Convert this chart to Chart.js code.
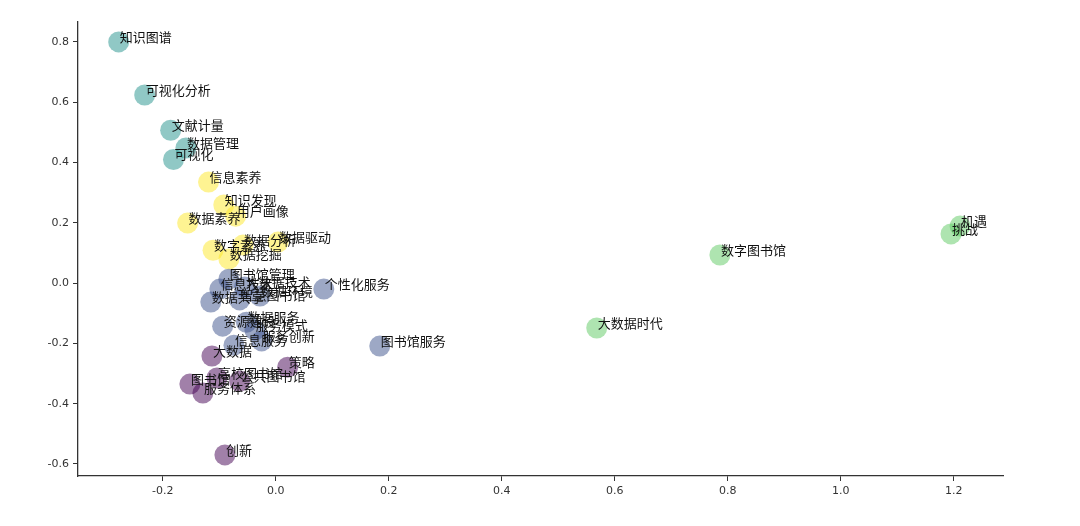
<!DOCTYPE html>
<html lang="zh">
<head>
<meta charset="UTF-8">
<title>关键词聚类散点图</title>
<script src="https://cdn.jsdelivr.net/npm/chart.js@4.4.4/dist/chart.umd.min.js"></script>
<style>
  html, body { margin: 0; padding: 0; background: #fff; }
  #wrap { width: 1080px; height: 526px; }
</style>
</head>
<body>
<div id="wrap"><canvas id="scatter" width="1080" height="526"></canvas></div>
<script>
// Keywords, their 2-D coordinates and the cluster each one belongs to.
const words = [
  '知识图谱', '可视化分析', '文献计量', '数据管理', '可视化',
  '信息素养', '知识发现', '用户画像', '数据素养', '数字素养', '数据分析', '数据驱动', '数据挖掘',
  '机遇', '挑战', '数字图书馆', '大数据时代',
  '个性化服务', '图书馆服务', '图书馆管理', '信息技术', '大数据技术', '数据环境', '数据共享',
  '智慧图书馆', '资源建设', '服务模式', '服务创新', '信息服务', '数据服务',
  '大数据', '策略', '高校图书馆', '图书馆', '公共图书馆', '服务体系', '创新',
];
const xValues = [
  -0.278, -0.232, -0.186, -0.159, -0.181,
  -0.119, -0.092, -0.071, -0.156, -0.111, -0.058, 0.004, -0.083,
  1.211, 1.195, 0.786, 0.568,
  0.085, 0.184, -0.083, -0.099, -0.055, -0.028, -0.115,
  -0.064, -0.094, -0.037, -0.025, -0.074, -0.052,
  -0.113, 0.021, -0.104, -0.152, -0.064, -0.129, -0.090,
];
const yValues = [
  0.800, 0.624, 0.507, 0.448, 0.410,
  0.335, 0.259, 0.222, 0.199, 0.109, 0.126, 0.136, 0.080,
  0.189, 0.163, 0.093, -0.149,
  -0.020, -0.209, 0.013, -0.020, -0.013, -0.043, -0.063,
  -0.056, -0.143, -0.156, -0.192, -0.206, -0.130,
  -0.242, -0.279, -0.315, -0.335, -0.325, -0.365, -0.570,
];
const clusterIds = [
  2, 2, 2, 2, 2,
  4, 4, 4, 4, 4, 4, 4, 4,
  3, 3, 3, 3,
  1, 1, 1, 1, 1, 1, 1,
  1, 1, 1, 1, 1, 1,
  0, 0, 0, 0, 0, 0, 0,
];

const xTicks = [-0.2, 0.0, 0.2, 0.4, 0.6, 0.8, 1.0, 1.2];
const yTicks = [-0.6, -0.4, -0.2, 0.0, 0.2, 0.4, 0.6, 0.8];

// viridis at 0, .25, .5, .75, 1 with alpha 0.5
const clusterColors = [
  'rgba(68, 1, 84, 0.5)',
  'rgba(59, 82, 139, 0.5)',
  'rgba(33, 145, 140, 0.5)',
  'rgba(94, 201, 98, 0.5)',
  'rgba(253, 231, 37, 0.5)',
];

const datasets = clusterColors.map((color, c) => {
  const pts = [];
  words.forEach((w, i) => {
    if (clusterIds[i] === c) pts.push({ x: xValues[i], y: yValues[i], word: w });
  });
  return {
    data: pts,
    backgroundColor: color,
    borderWidth: 0,
    pointRadius: 10.5,
    pointHoverRadius: 10.5,
  };
});

// Keyword text, drawn after every point like the text annotations in the original.
const wordLabels = {
  id: 'wordLabels',
  afterDatasetsDraw(chart) {
    const ctx = chart.ctx;
    ctx.save();
    ctx.font = '13px "Noto Sans CJK SC", sans-serif';
    ctx.fillStyle = '#111';
    ctx.textAlign = 'left';
    ctx.textBaseline = 'alphabetic';
    chart.data.datasets.forEach((ds, d) => {
      chart.getDatasetMeta(d).data.forEach((el, i) => {
        ctx.fillText(ds.data[i].word, el.x + 1, el.y);
      });
    });
    ctx.restore();
  },
};

const axisColor = '#333';
const tickFont = { family: 'DejaVu Sans', size: 11 };

new Chart(document.getElementById('scatter'), {
  type: 'scatter',
  data: { datasets },
  options: {
    responsive: false,
    animation: false,
    events: [],
    layout: { padding: { top: 22, right: 77, left: 0, bottom: 0 } },
    plugins: { legend: { display: false }, tooltip: { enabled: false } },
    scales: {
      x: {
        type: 'linear',
        min: -0.35,
        max: 1.287,
        afterBuildTicks: (scale) => { scale.ticks = xTicks.map((v) => ({ value: v })); },
        afterFit: (scale) => { scale.height = 50; },
        border: { display: true, color: axisColor, width: 1.3 },
        grid: { display: true, drawOnChartArea: false, drawTicks: true, tickLength: 5, color: axisColor },
        ticks: { color: axisColor, font: tickFont, padding: 4, maxRotation: 0,
          callback: (v) => v.toFixed(1) },
      },
      y: {
        type: 'linear',
        min: -0.64,
        max: 0.866,
        afterBuildTicks: (scale) => { scale.ticks = yTicks.map((v) => ({ value: v })); },
        afterFit: (scale) => { scale.width = 78; },
        border: { display: true, color: axisColor, width: 1.3 },
        grid: { display: true, drawOnChartArea: false, drawTicks: true, tickLength: 5, color: axisColor },
        ticks: { color: axisColor, font: tickFont, padding: 4,
          callback: (v) => v.toFixed(1) },
      },
    },
  },
  plugins: [wordLabels],
});
</script>
</body>
</html>
